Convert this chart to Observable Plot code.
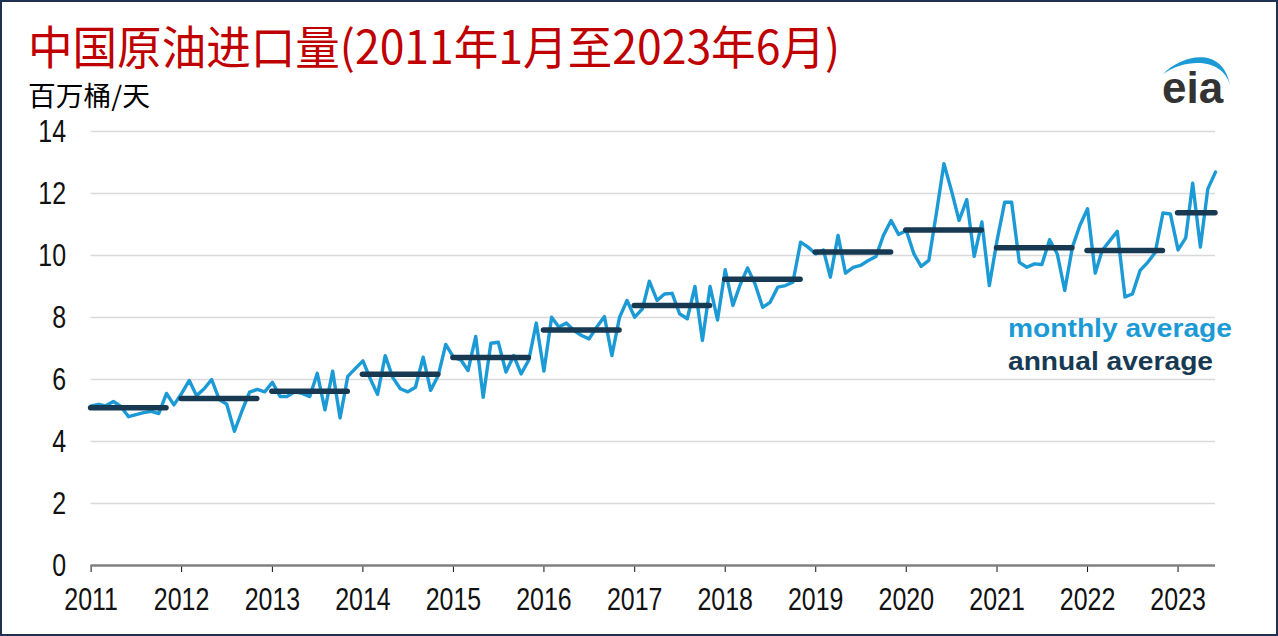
<!DOCTYPE html>
<html>
<head>
<meta charset="utf-8">
<script src="https://cdn.jsdelivr.net/npm/d3@7"></script>
<script src="https://cdn.jsdelivr.net/npm/@observablehq/plot@0.6"></script>
<style>
  html, body { margin: 0; padding: 0; background: #fff; }
  #frame { position: relative; width: 1278px; height: 636px; overflow: hidden; background: #fff; }
  #border { position: absolute; left: 0; top: 0; width: 1278px; height: 636px; box-sizing: border-box; border: 2px solid #1f3050; pointer-events: none; }
  .txt { position: absolute; white-space: nowrap; line-height: 1; transform-origin: left top; }
  #title { left: 28px; top: 21px; font-family: "Noto Sans CJK SC", sans-serif; font-size: 46px; line-height: 46px; height: 50px; color: #c00000; }
  #subtitle { left: 28px; top: 81px; font-family: "Noto Sans CJK SC", sans-serif; font-size: 27px; color: #000; }
  #legM { left: 1008px; top: 316px; font-family: "Liberation Sans", Arial, sans-serif; font-weight: bold; font-size: 25px; color: #1c9ad6; }
  #legA { left: 1008px; top: 349px; font-family: "Liberation Sans", Arial, sans-serif; font-weight: bold; font-size: 25px; color: #173a52; }
  #chart { position: absolute; left: 0; top: 100px; }
  #logo { position: absolute; left: 1150px; top: 45px; overflow: visible; }
</style>
</head>
<body>
<div id="frame">
  <div id="chart"></div>
  <div class="txt" id="title">中国原油进口量(2011年1月至2023年6月)</div>
  <div class="txt" id="subtitle">百万桶/天</div>
  <div class="txt" id="legM">monthly average</div>
  <div class="txt" id="legA">annual average</div>
  <svg id="logo" width="100" height="80" viewBox="0 0 100 80">
    <path d="M13,29 C32,10 72,0 80,40 C73,14 38,12 13,29 Z" fill="#1c9ad6"/>
    <text x="12" y="58" font-family="Liberation Sans, Arial, sans-serif" font-weight="bold" font-size="44" fill="#333">eia</text>
  </svg>
  <div id="border"></div>
</div>
<script>
// Monthly China crude oil imports, million barrels per day (Jan 2011 - Jun 2023)
const y2011 = [5.15, 5.20, 5.15, 5.29, 5.13, 4.80, 4.87, 4.93, 4.97, 4.90, 5.55, 5.18];
const y2012 = [5.55, 5.97, 5.48, 5.70, 6.00, 5.35, 5.20, 4.33, 5.00, 5.59, 5.68, 5.60];
const y2013 = [5.91, 5.45, 5.45, 5.60, 5.55, 5.45, 6.20, 5.02, 6.27, 4.76, 6.10, 6.35];
const y2014 = [6.60, 6.00, 5.52, 6.77, 6.07, 5.70, 5.60, 5.75, 6.72, 5.65, 6.13, 7.13];
const y2015 = [6.72, 6.62, 6.29, 7.39, 5.43, 7.17, 7.20, 6.24, 6.77, 6.18, 6.63, 7.82];
const y2016 = [6.27, 8.01, 7.69, 7.82, 7.58, 7.42, 7.31, 7.69, 8.03, 6.77, 8.01, 8.55];
const y2017 = [8.01, 8.28, 9.17, 8.55, 8.76, 8.78, 8.12, 7.96, 9.00, 7.26, 9.00, 7.92];
const y2018 = [9.54, 8.39, 9.03, 9.60, 9.09, 8.33, 8.49, 8.98, 9.03, 9.14, 10.43, 10.27];
const y2019 = [10.05, 10.18, 9.30, 10.65, 9.43, 9.62, 9.68, 9.84, 9.97, 10.65, 11.13, 10.68];
const y2020 = [10.81, 10.05, 9.65, 9.84, 11.34, 12.96, 12.10, 11.13, 11.80, 9.97, 11.08, 9.03];
const y2021 = [10.48, 11.72, 11.72, 9.78, 9.62, 9.73, 9.71, 10.51, 10.05, 8.87, 10.27, 10.97];
const y2022 = [11.51, 9.43, 10.16, 10.48, 10.78, 8.66, 8.76, 9.52, 9.78, 10.10, 11.37, 11.34];
const y2023 = [10.18, 10.57, 12.33, 10.27, 12.15, 12.69];

const years = [2011, 2012, 2013, 2014, 2015, 2016, 2017, 2018, 2019, 2020, 2021, 2022, 2023];
const monthlyByYear = [y2011, y2012, y2013, y2014, y2015, y2016, y2017, y2018, y2019, y2020, y2021, y2022, y2023];
// Annual averages, million barrels per day
const annualAvg = [5.09, 5.39, 5.62, 6.17, 6.71, 7.60, 8.39, 9.23, 10.11, 10.82, 10.25, 10.16, 11.38];
// Tick labels
const xTickYears = [2011, 2012, 2013, 2014, 2015, 2016, 2017, 2018, 2019, 2020, 2021, 2022, 2023];
const yTicks = [0, 2, 4, 6, 8, 10, 12, 14];

const monthly = [];
years.forEach((yr, i) => monthlyByYear[i].forEach((v, m) => monthly.push({date: new Date(yr, m, 1), value: v})));
const annual = years.map((yr, i) => ({
  start: new Date(yr, 0, 1),
  end: new Date(yr, Math.min(monthlyByYear[i].length - 1, 10), 1),
  value: annualAvg[i]
}));

const plot = Plot.plot({
  width: 1278,
  height: 536,
  marginLeft: 90.6,
  marginRight: 63,
  marginTop: 31,
  marginBottom: 71,
  x: {
    type: "time",
    domain: [new Date(2011, 0, 1), new Date(2023, 5, 1)],
    ticks: xTickYears.map(y => new Date(y, 0, 1)),
    tickFormat: d3.timeFormat("%Y"),
    tickSize: 7,
    tickPadding: 15,
    label: null
  },
  y: {
    domain: [0, 14],
    ticks: yTicks,
    tickSize: 0,
    tickPadding: 25,
    label: null
  },
  style: {
    fontFamily: '"Liberation Sans", Arial, sans-serif',
    fontSize: "32px",
    color: "#111",
    background: "transparent",
    overflow: "visible"
  },
  marks: [
    Plot.ruleY(yTicks.filter(d => d > 0), {stroke: "#d9d9d9", strokeWidth: 1.6}),
    Plot.ruleY([0], {stroke: "#808080", strokeWidth: 2.5}),
    Plot.line(monthly, {x: "date", y: "value", stroke: "#1c9ad6", strokeWidth: 3.4, strokeLinejoin: "round"}),
    Plot.ruleY(annual, {y: "value", x1: "start", x2: "end", stroke: "#173a52", strokeWidth: 5.5, strokeLinecap: "round"})
  ]
});
document.getElementById("chart").appendChild(plot);

// condense the tick label glyphs horizontally (narrow face look)
plot.querySelectorAll('g[aria-label="x-axis tick label"] text, g[aria-label="y-axis tick label"] text').forEach(t => {
  const tr = t.getAttribute("transform") || "";
  t.setAttribute("transform", tr + " scale(0.78,1)");
});

// fit headline texts to their widths
function fit(id, w) {
  const el = document.getElementById(id);
  const cur = el.getBoundingClientRect().width;
  el.style.transform = `scaleX(${w / cur})`;
}
fit("title", 812);
fit("subtitle", 122);
fit("legM", 224);
fit("legA", 205);
</script>
</body>
</html>
